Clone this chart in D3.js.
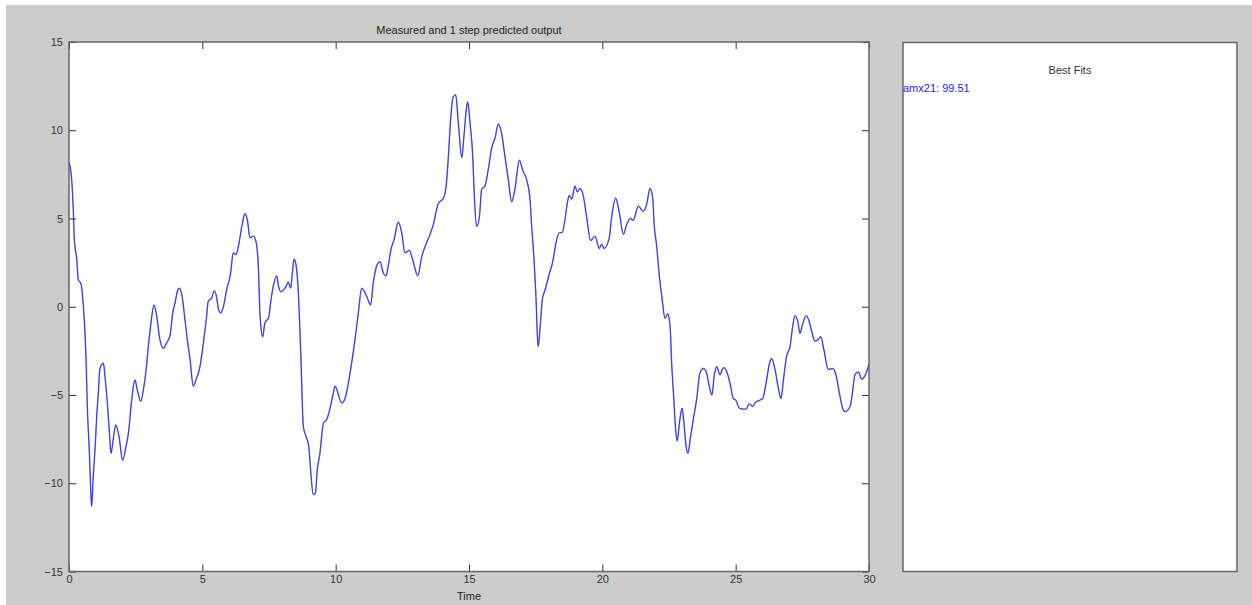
<!DOCTYPE html>
<html>
<head>
<meta charset="utf-8">
<script src="https://cdn.jsdelivr.net/npm/d3@7"></script>
<style>
  html, body { margin: 0; padding: 0; background: #fff; }
  svg { display: block; font-family: "Liberation Sans", Arial, sans-serif; }
</style>
</head>
<body>
<div id="chart"></div>
<script>
// values
const time = [
  0, 0.1, 0.16, 0.2, 0.29, 0.35, 0.44, 0.54, 0.6, 0.64, 0.69, 0.76, 0.81, 0.85, 0.91, 0.975,
  1.04, 1.1, 1.16, 1.29, 1.35, 1.44, 1.51, 1.575, 1.66, 1.75, 1.875, 2.01, 2.14, 2.23, 2.35,
  2.475, 2.56, 2.69, 2.79, 2.89, 2.975, 3.075, 3.19, 3.29, 3.39, 3.54, 3.66, 3.79, 3.89, 3.975,
  4.06, 4.14, 4.24, 4.35, 4.44, 4.54, 4.66, 4.76, 4.91, 5.04, 5.16, 5.22, 5.35, 5.45, 5.54,
  5.6, 5.69, 5.79, 5.91, 6.06, 6.16, 6.26, 6.35, 6.48, 6.6, 6.69, 6.79, 6.91, 7.01, 7.1, 7.16,
  7.26, 7.35, 7.48, 7.575, 7.69, 7.79, 7.86, 7.94, 8.04, 8.14, 8.22, 8.31, 8.375, 8.44, 8.51,
  8.6, 8.69, 8.79, 8.89, 8.99, 9.06, 9.16, 9.24, 9.31, 9.41, 9.54, 9.66, 9.79, 9.91, 9.975,
  10.23, 10.35, 10.54, 10.72, 10.85, 10.975, 11.16, 11.31, 11.41, 11.56, 11.66, 11.79, 11.89,
  11.97, 12.075, 12.19, 12.35, 12.475, 12.6, 12.76, 12.89, 13.08, 13.23, 13.35, 13.54, 13.66,
  13.85, 14.04, 14.14, 14.22, 14.31, 14.41, 14.5, 14.6, 14.73, 14.81, 14.89, 14.95, 15.04,
  15.14, 15.2, 15.29, 15.39, 15.475, 15.6, 15.72, 15.85, 15.975, 16.1, 16.23, 16.35, 16.475,
  16.6, 16.72, 16.89, 17.01, 17.16, 17.29, 17.35, 17.44, 17.51, 17.59, 17.66, 17.75, 17.85,
  18.0, 18.14, 18.26, 18.39, 18.49, 18.6, 18.69, 18.76, 18.85, 18.975, 19.06, 19.16, 19.29,
  19.41, 19.56, 19.725, 19.89, 19.975, 20.06, 20.26, 20.35, 20.5, 20.64, 20.79, 20.91, 21.06,
  21.16, 21.35, 21.54, 21.66, 21.79, 21.89, 21.94, 22.04, 22.14, 22.23, 22.35, 22.45, 22.54,
  22.6, 22.69, 22.75, 22.81, 22.89, 22.99, 23.06, 23.14, 23.21, 23.31, 23.41, 23.54, 23.66,
  23.79, 23.91, 24.01, 24.11, 24.2, 24.29, 24.41, 24.54, 24.66, 24.79, 24.91, 25.01, 25.14,
  25.26, 25.39, 25.51, 25.64, 25.725, 25.89, 26.01, 26.16, 26.26, 26.35, 26.475, 26.6, 26.7,
  26.79, 26.91, 27.04, 27.14, 27.225, 27.33, 27.41, 27.51, 27.64, 27.76, 27.85, 27.975, 28.1,
  28.19, 28.31, 28.47, 28.64, 28.76, 28.89, 29.01, 29.1, 29.29, 29.375, 29.475, 29.6, 29.725,
  29.85, 29.94, 30
];
const measured = [
  8.2, 7.2, 5.5, 3.8, 2.7, 1.5, 1.35, 0, -1.5, -3, -5.8, -8.1, -10.2, -11.3, -9.6, -8.1,
  -6.2, -4.9, -3.5, -3.2, -3.95, -5.5, -7.0, -8.3, -7.5, -6.7, -7.35, -8.7, -7.9, -7.15, -5.3,
  -4.15, -4.7, -5.35, -4.7, -3.6, -2.25, -0.9, 0.1, -0.55, -1.7, -2.35, -2.05, -1.6, -0.35, 0.2,
  0.85, 1.05, 0.6, -0.75, -1.9, -3, -4.5, -4.15, -3.4, -2.05, -0.55, 0.3, 0.5, 0.9, 0.5,
  -0.1, -0.35, 0, 0.95, 1.9, 3.05, 2.95, 3.4, 4.55, 5.27, 4.9, 3.9, 4.0, 3.7, 2.3, -0.35,
  -1.7, -0.9, -0.65, 0.4, 1.35, 1.75, 1.15, 0.85, 0.95, 1.15, 1.4, 1.05, 1.9, 2.7, 2.4,
  0.8, -2.6, -6.8, -7.35, -7.9, -9.25, -10.65, -10.55, -9.25, -8.3, -6.6, -6.4, -5.75, -4.9, -4.5,
  -5.45, -5.2, -3.75, -1.9, -0.35, 1.05, 0.6, 0.1, 1.35, 2.4, 2.55, 1.9, 1.75,
  2.3, 3.25, 3.8, 4.8, 4.2, 3.05, 3.2, 2.65, 1.75, 2.85, 3.4, 4.1, 4.65,
  5.85, 6.15, 6.8, 8.35, 10.6, 11.9, 12.0, 10.4, 8.45, 9.65, 11.05, 11.6, 10.4,
  8.5, 6.25, 4.55, 5.1, 6.65, 6.85, 7.75, 9.0, 9.55, 10.35, 9.75, 8.5, 7.2,
  5.95, 6.65, 8.3, 7.75, 7.2, 6.05, 4.55, 2.65, 0.6, -2.25, -1.3, 0.4, 0.95,
  1.8, 2.55, 3.6, 4.2, 4.2, 4.95, 5.9, 6.3, 6.1, 6.85, 6.5, 6.7, 6.25,
  5.1, 3.75, 4.0, 3.3, 3.55, 3.3, 3.9, 5.1, 6.15, 5.3, 4.1, 4.65, 5.0,
  4.9, 5.7, 5.4, 5.8, 6.7, 6.15, 4.75, 3.4, 1.7, 0.6, -0.65, -0.4, -1.1,
  -3.2, -5.45, -7.0, -7.6, -6.6, -5.75, -6.6, -7.9, -8.3, -7.35, -6.4, -5.2, -3.75,
  -3.5, -3.75, -4.5, -5.0, -3.85, -3.4, -3.85, -3.45, -3.65, -4.35, -5.2, -5.3, -5.75,
  -5.8, -5.8, -5.5, -5.65, -5.45, -5.3, -5.2, -4.15, -3.25, -2.95, -3.55, -4.6, -5.2,
  -4.15, -2.8, -2.25, -1.1, -0.5, -0.85, -1.5, -1.0, -0.5, -0.85, -1.4, -1.95, -1.85,
  -1.7, -2.45, -3.55, -3.5, -3.85, -4.9, -5.75, -5.95, -5.65, -4.9, -3.85, -3.7, -4.1,
  -3.9, -3.55, -3.25
];
const xTicks = [0, 5, 10, 15, 20, 25, 30];
const yTicks = [-15, -10, -5, 0, 5, 10, 15];
const fitNames = ['amx21'];
const fitValues = [99.51];

const W = 1252, H = 605;
const plot = { left: 69, top: 42, right: 869, bottom: 571.5 };
const panel = { left: 903, top: 42.5, right: 1237, bottom: 571.5 };

const svg = d3.select('#chart').append('svg')
  .attr('width', W).attr('height', H);

svg.append('rect')
  .attr('x', 6).attr('y', 5).attr('width', W - 6).attr('height', H - 5)
  .attr('fill', '#cccccc');

const x = d3.scaleLinear().domain([0, 30]).range([plot.left, plot.right]);
const y = d3.scaleLinear().domain([-15, 15]).range([plot.bottom, plot.top]);

svg.append('rect')
  .attr('x', plot.left).attr('y', plot.top)
  .attr('width', plot.right - plot.left).attr('height', plot.bottom - plot.top)
  .attr('fill', '#fff');

svg.append('clipPath').attr('id', 'clip')
  .append('rect')
  .attr('x', plot.left).attr('y', plot.top)
  .attr('width', plot.right - plot.left).attr('height', plot.bottom - plot.top);

const pts = time.map((t, i) => [t, measured[i]]);
const line = d3.line()
  .x(d => x(d[0]))
  .y(d => y(d[1]))
  .curve(d3.curveMonotoneX);

// measured (light) with the predicted trace on top of it
svg.append('path')
  .datum(pts)
  .attr('clip-path', 'url(#clip)')
  .attr('d', line)
  .attr('fill', 'none')
  .attr('stroke', '#6464ff')
  .attr('stroke-width', 1.4)
  .attr('stroke-linejoin', 'round');

svg.append('path')
  .datum(pts)
  .attr('clip-path', 'url(#clip)')
  .attr('d', line)
  .attr('fill', 'none')
  .attr('stroke', '#0000d8')
  .attr('stroke-width', 0.6)
  .attr('stroke-opacity', 0.7);

// axes with ticks pointing inward, on all four sides
const tickLen = 7;
const fmt = d3.format('d');
const axisStyle = sel => {
  sel.select('.domain').remove();
  sel.selectAll('.tick line').attr('stroke', '#333');
  sel.selectAll('.tick text').attr('fill', '#333').attr('font-size', 11);
};

svg.append('g')
  .attr('transform', `translate(0,${plot.bottom})`)
  .call(d3.axisBottom(x).tickValues(xTicks).tickFormat(fmt).tickSizeInner(-tickLen).tickSizeOuter(0).tickPadding(4))
  .call(axisStyle);

svg.append('g')
  .attr('transform', `translate(0,${plot.top})`)
  .call(d3.axisTop(x).tickValues(xTicks).tickFormat('').tickSizeInner(-tickLen).tickSizeOuter(0))
  .call(axisStyle);

svg.append('g')
  .attr('transform', `translate(${plot.left},0)`)
  .call(d3.axisLeft(y).tickValues(yTicks).tickFormat(fmt).tickSizeInner(-tickLen).tickSizeOuter(0).tickPadding(6))
  .call(axisStyle);

svg.append('g')
  .attr('transform', `translate(${plot.right},0)`)
  .call(d3.axisRight(y).tickValues(yTicks).tickFormat('').tickSizeInner(-tickLen).tickSizeOuter(0))
  .call(axisStyle);

svg.append('rect')
  .attr('x', plot.left).attr('y', plot.top)
  .attr('width', plot.right - plot.left).attr('height', plot.bottom - plot.top)
  .attr('fill', 'none').attr('stroke', '#666').attr('stroke-width', 1.5);

svg.append('text')
  .text('Measured and 1 step predicted output')
  .attr('x', (plot.left + plot.right) / 2).attr('y', 34)
  .attr('text-anchor', 'middle')
  .attr('fill', '#222').attr('font-size', 11);

svg.append('text')
  .text('Time')
  .attr('x', (plot.left + plot.right) / 2).attr('y', 600)
  .attr('text-anchor', 'middle')
  .attr('fill', '#222').attr('font-size', 11);

// best fits panel
svg.append('rect')
  .attr('x', panel.left).attr('y', panel.top)
  .attr('width', panel.right - panel.left).attr('height', panel.bottom - panel.top)
  .attr('fill', '#fff').attr('stroke', '#666').attr('stroke-width', 1.5);

svg.append('text')
  .text('Best Fits')
  .attr('x', 1070).attr('y', 74)
  .attr('text-anchor', 'middle')
  .attr('fill', '#333').attr('font-size', 11);

svg.selectAll('.fit')
  .data(fitNames)
  .join('text')
  .attr('class', 'fit')
  .text((d, i) => `${d}: ${fitValues[i].toFixed(2)}`)
  .attr('x', panel.left).attr('y', (d, i) => 92 + i * 14)
  .attr('fill', '#2020ff').attr('font-size', 11);
</script>
</body>
</html>
